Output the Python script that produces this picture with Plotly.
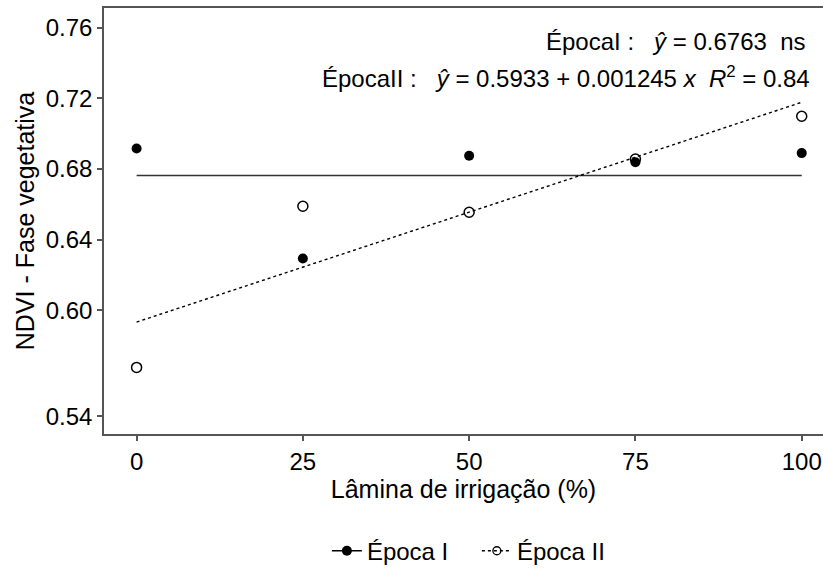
import plotly.graph_objects as go

laminas = [0, 25, 50, 75, 100]
epoca1 = [0.6916, 0.6293, 0.6875, 0.6838, 0.6890]
epoca2 = [0.5676, 0.6589, 0.6555, 0.6856, 0.7099]
mean1 = 0.6763
b0, b1 = 0.5933, 0.001245
x_ticks = [0, 25, 50, 75, 100]
y_ticks = [0.54, 0.60, 0.64, 0.68, 0.72, 0.76]

FONT = "Liberation Sans, Arial, sans-serif"
fit_x = [laminas[0], laminas[-1]]

fig = go.Figure()
fig.add_trace(go.Scatter(x=fit_x, y=[mean1, mean1], mode="lines",
                         line=dict(color="#333333", width=1.5), showlegend=False, hoverinfo="skip"))
fig.add_trace(go.Scatter(x=fit_x, y=[b0 + b1 * v for v in fit_x], mode="lines",
                         line=dict(color="black", width=1.4, dash="dot"), showlegend=False, hoverinfo="skip"))
fig.add_trace(go.Scatter(x=laminas, y=epoca1, mode="markers",
                         marker=dict(symbol="circle", size=10, color="black"), showlegend=False))
fig.add_trace(go.Scatter(x=laminas, y=epoca2, mode="markers",
                         marker=dict(symbol="circle-open", size=10, color="black", line=dict(width=1.5)),
                         showlegend=False))
# legend entries
fig.add_trace(go.Scatter(x=[None], y=[None], mode="lines+markers", name="Época I",
                         line=dict(color="black", width=1.5),
                         marker=dict(symbol="circle", size=10, color="black")))
fig.add_trace(go.Scatter(x=[None], y=[None], mode="lines+markers", name="Época II",
                         line=dict(color="black", width=1.4, dash="dot"),
                         marker=dict(symbol="circle-open", size=8, color="black", line=dict(width=1.3))))

nb = "\u00a0"
fig.add_annotation(xref="paper", yref="paper", x=0.979, y=(8 - 42) / 432 + 1, xanchor="right", yanchor="middle",
                   text=f"ÉpocaI{nb}:{nb}{nb}{nb}<i>ŷ</i>{nb}={nb}0.6763{nb}{nb}ns", showarrow=False,
                   font=dict(family=FONT, size=24, color="black"))
fig.add_annotation(xref="paper", yref="paper", x=0.985, y=(8 - 78) / 432 + 1, xanchor="right", yanchor="middle",
                   text=f"ÉpocaII{nb}:{nb}{nb}{nb}<i>ŷ</i>{nb}={nb}0.5933{nb}+{nb}0.001245{nb}<i>x</i>{nb}{nb}<i>R</i><sup>2</sup>{nb}={nb}0.84",
                   showarrow=False, font=dict(family=FONT, size=24, color="black"))

fig.update_layout(
    width=823, height=574,
    margin=dict(l=104, r=0, t=8, b=134),
    plot_bgcolor="white", paper_bgcolor="white",
    font=dict(family=FONT, size=24, color="black"),
    showlegend=True,
    legend=dict(orientation="h", x=0.31, xanchor="left", y=-0.275, yanchor="middle",
                font=dict(size=24, color="black"), entrywidth=105, entrywidthmode="pixels"),
    xaxis=dict(range=[-4.9, 103.2], tickvals=x_ticks, showgrid=False, zeroline=False,
               showline=True, mirror=True, linecolor="#555555", linewidth=1.5,
               ticks="outside", ticklen=5, tickcolor="#555555", tickwidth=1.5,
               tickfont=dict(size=24, color="black"),
               title=dict(text="Lâmina de irrigação (%)", font=dict(size=25, color="black"), standoff=4)),
    yaxis=dict(range=[0.5299, 0.7712], tickvals=y_ticks, tickformat=".2f", showgrid=False, zeroline=False,
               showline=True, mirror=False, linecolor="#555555", linewidth=1.5,
               ticks="outside", ticklen=5, tickcolor="#555555", tickwidth=1.5,
               tickfont=dict(size=24, color="black"),
               title=dict(text="NDVI - Fase vegetativa", font=dict(size=25, color="black"), standoff=4)),
)
fig.write_html("out.html")
